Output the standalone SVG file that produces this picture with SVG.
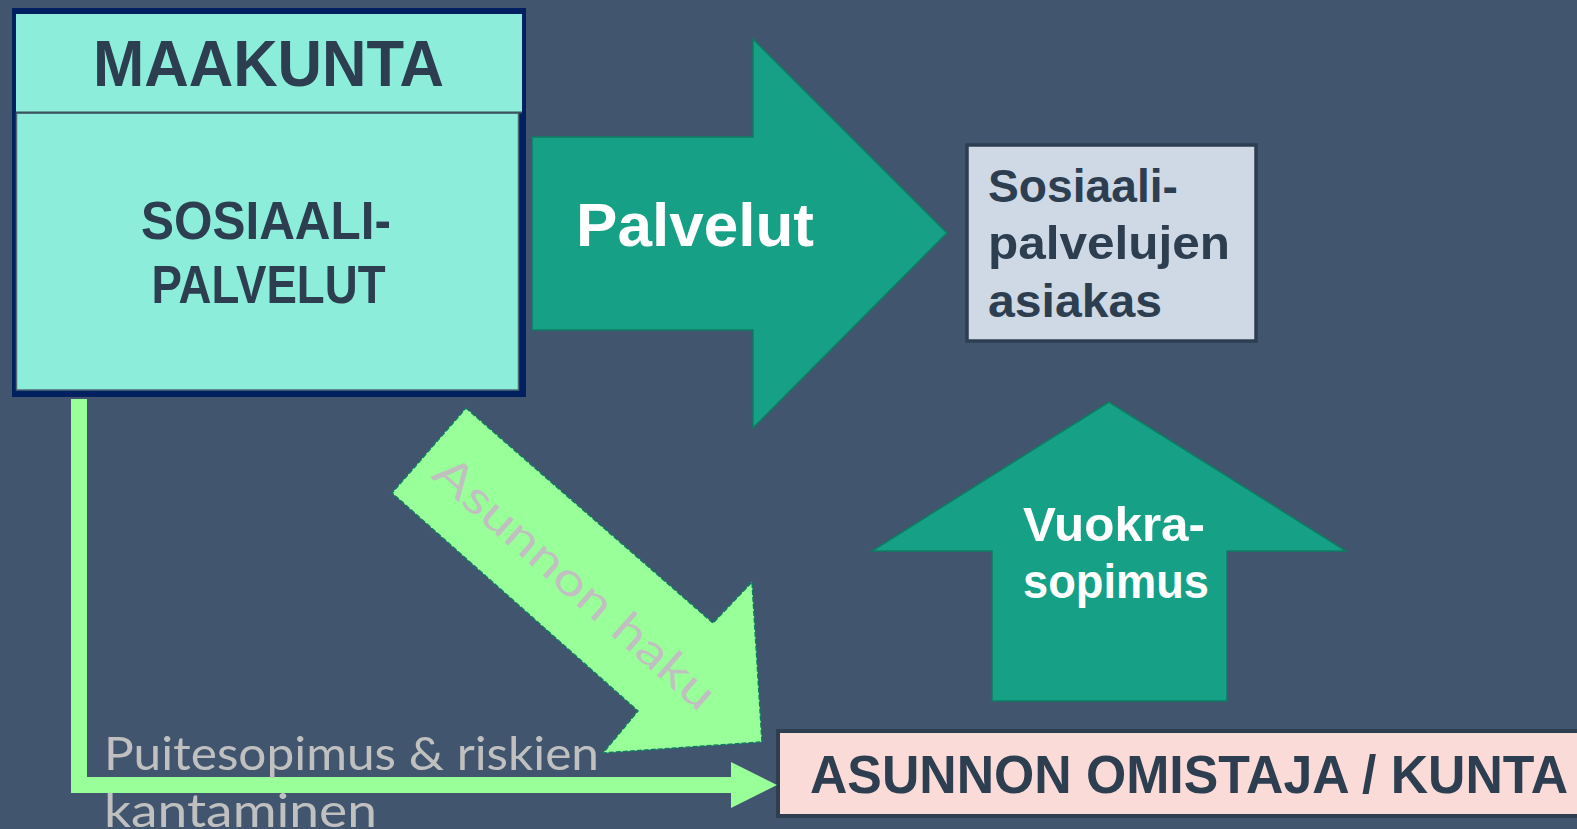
<svg xmlns="http://www.w3.org/2000/svg" width="1577" height="829" viewBox="0 0 1577 829">
<style>
.bold{font-family:"Liberation Sans",Arial,sans-serif;font-weight:bold;}
.dark{fill:#2c3e50;}
.white{fill:#ffffff;}
.gray{font-family:Lato,"Liberation Sans",sans-serif;font-weight:normal;fill:#c0c0c0;}
.teal{fill:#16a085;stroke:#0e7c63;stroke-width:1.5;}
.green{fill:#99ff99;}
</style>
<rect x="0" y="0" width="1577" height="829" fill="#41566e"/>

<g id="maakunta">
<rect x="12" y="8" width="514" height="389" fill="#002060"/>
<rect x="16" y="14" width="506" height="98" fill="#8ceeda"/>
<rect x="16.5" y="113" width="502" height="277" fill="#8ceeda" stroke="#4f6a74" stroke-width="1.5"/>
<line x1="16" y1="112.5" x2="522" y2="112.5" stroke="#3d5560" stroke-width="2"/>
<text class="bold dark" x="93" y="86" font-size="65" textLength="351" lengthAdjust="spacingAndGlyphs">MAAKUNTA</text>
<text class="bold dark" x="141" y="239" font-size="54" textLength="250" lengthAdjust="spacingAndGlyphs">SOSIAALI-</text>
<text class="bold dark" x="151.5" y="303" font-size="53" textLength="234" lengthAdjust="spacingAndGlyphs">PALVELUT</text>
</g>

<g id="asiakas">
<rect x="967" y="145" width="289" height="196" fill="#cfd8e5" stroke="#2c3e50" stroke-width="3.5"/>
<text class="bold dark" x="988" y="202" font-size="47" textLength="190" lengthAdjust="spacingAndGlyphs">Sosiaali-</text>
<text class="bold dark" x="988" y="259" font-size="47" textLength="242" lengthAdjust="spacingAndGlyphs">palvelujen</text>
<text class="bold dark" x="988" y="317" font-size="47" textLength="174" lengthAdjust="spacingAndGlyphs">asiakas</text>
</g>

<g id="omistaja">
<rect x="778" y="731" width="812" height="85" fill="#fadbd8" stroke="#2c3e50" stroke-width="4"/>
<text class="bold dark" x="810" y="793" font-size="53" textLength="758" lengthAdjust="spacingAndGlyphs">ASUNNON OMISTAJA / KUNTA</text>
</g>

<g id="connectors">
<g id="palvelut-arrow">
<polygon class="teal" points="532,137 753,137 753,39 947,233 753,428 753,330 532,330"/>
<text class="bold white" x="576" y="246" font-size="62" textLength="238" lengthAdjust="spacingAndGlyphs">Palvelut</text>
</g>
<g id="vuokra-arrow">
<polygon class="teal" points="1109,402 1346,551 1227,551 1227,701 992,701 992,551 872,551"/>
<text class="bold white" x="1023" y="541" font-size="48" textLength="182" lengthAdjust="spacingAndGlyphs">Vuokra-</text>
<text class="bold white" x="1023" y="598" font-size="48" textLength="186" lengthAdjust="spacingAndGlyphs">sopimus</text>
</g>
<g id="haku-arrow">
<polygon class="green" stroke="#0e7c63" stroke-width="1.5" stroke-dasharray="5,2" points="466,408 713,623 752,582 762,742 603,753 638,711 392,493"/>
<text class="gray" transform="translate(430,477) rotate(41.2)" x="0" y="0" font-size="46" textLength="358" lengthAdjust="spacingAndGlyphs">Asunnon haku</text>
</g>
<g id="puite-arrow">
<polygon class="green" points="71,399 87,399 87,777 731,777 731,762 777,785 731,808 731,793 71,793"/>
<text class="gray" x="104" y="770" font-size="47" textLength="495" lengthAdjust="spacingAndGlyphs">Puitesopimus &amp; riskien</text>
<text class="gray" x="104" y="827" font-size="47" textLength="273" lengthAdjust="spacingAndGlyphs">kantaminen</text>
</g>
</g>
</svg>
